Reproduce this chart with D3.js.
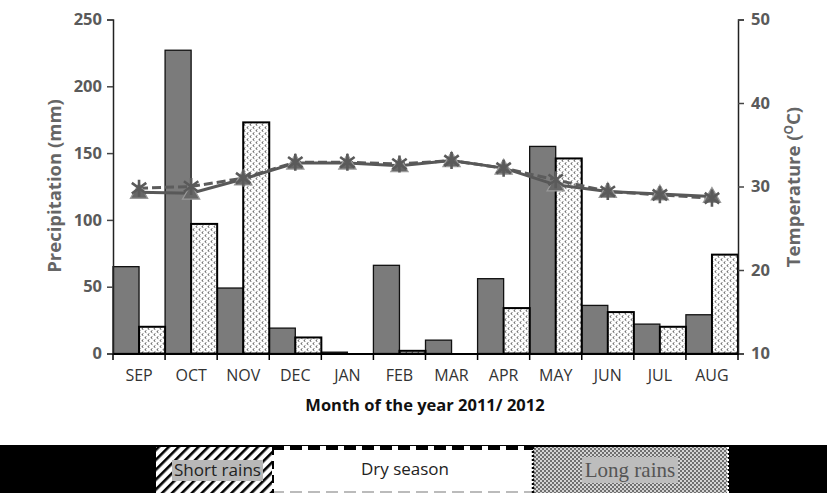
<!DOCTYPE html>
<html><head><meta charset="utf-8">
<script src="https://cdn.jsdelivr.net/npm/d3@7"></script>
<style>body{margin:0;background:#fff}svg{display:block}</style>
</head><body>
<svg id="c" width="827" height="493"></svg>
<script>
const months = ["SEP","OCT","NOV","DEC","JAN","FEB","MAR","APR","MAY","JUN","JUL","AUG"];
const precipSolid = [65, 227, 49, 19, 1, 66, 10, 56, 155, 36, 22, 29];
const precipDotted = [20, 97, 173, 12, 0, 2, 0, 34, 146, 31, 20, 74];
const tempTriangle = [29.3, 29.2, 30.9, 32.8, 32.8, 32.5, 33.1, 32.2, 30.2, 29.4, 29.1, 28.8];
const tempStar = [29.8, 30.0, 31.0, 32.9, 32.9, 32.7, 33.1, 32.2, 30.8, 29.4, 29.0, 28.6];
const leftTicks = [0, 50, 100, 150, 200, 250];
const rightTicks = [10, 20, 30, 40, 50];
const seasons = ["Short rains", "Dry season", "Long rains"];

const svg = d3.select("#c");
const defs = svg.append("defs");
const FONT = "'Open Sans', 'DejaVu Sans', sans-serif";

// patterns
const pDot = defs.append("pattern").attr("id","dots").attr("patternUnits","userSpaceOnUse").attr("width",6).attr("height",6);
pDot.append("rect").attr("width",6).attr("height",6).attr("fill","#fff");
pDot.append("path").attr("d","M2.4,0.5 L0.8,1.6 L2.4,2.7 M5.4,3.5 L3.8,4.6 L5.4,5.7").attr("stroke","#444").attr("stroke-width",0.9).attr("fill","none");

const pHatch = defs.append("pattern").attr("id","hatch").attr("patternUnits","userSpaceOnUse").attr("width",7).attr("height",7).attr("patternTransform","rotate(45)");
pHatch.append("rect").attr("width",7).attr("height",7).attr("fill","#fff");
pHatch.append("rect").attr("width",2.6).attr("height",7).attr("fill","#000");

const pCheck = defs.append("pattern").attr("id","check").attr("patternUnits","userSpaceOnUse").attr("width",4).attr("height",4);
pCheck.append("rect").attr("width",4).attr("height",4).attr("fill","#6f6f6f");
pCheck.append("circle").attr("cx",1).attr("cy",1).attr("r",0.95).attr("fill","#fff");
pCheck.append("circle").attr("cx",3).attr("cy",3).attr("r",0.95).attr("fill","#fff");

const x = d3.scaleBand().domain(months).range([113, 738]).padding(0);
const yL = d3.scaleLinear().domain([0, 250]).range([353.5, 19.5]);
const yR = d3.scaleLinear().domain([10, 50]).range([353.5, 19.5]);
const bw = x.bandwidth() / 2;

// bars
const g = svg.append("g");
g.selectAll("rect.s").data(months).enter().append("rect")
  .attr("x", d => x(d)).attr("width", bw)
  .attr("y", (d,i) => yL(precipSolid[i])).attr("height", (d,i) => yL(0) - yL(precipSolid[i]))
  .attr("fill", "#7b7b7b").attr("stroke", "#111").attr("stroke-width", 1.3);
g.selectAll("rect.d").data(months).enter().append("rect")
  .attr("x", d => x(d) + bw).attr("width", bw)
  .attr("y", (d,i) => yL(precipDotted[i])).attr("height", (d,i) => yL(0) - yL(precipDotted[i]))
  .attr("fill", "url(#dots)").attr("stroke", "#000").attr("stroke-width", 2);

// axes
const axL = d3.axisLeft(yL).tickValues(leftTicks).tickSize(6).tickPadding(5);
const gL = svg.append("g").attr("transform","translate(113,0)").call(axL);
const axR = d3.axisRight(yR).tickValues(rightTicks).tickSize(6).tickPadding(7);
const gR = svg.append("g").attr("transform","translate(738,0)").call(axR);
const axB = d3.axisBottom(x).tickSize(0).tickPadding(16);
const gB = svg.append("g").attr("transform","translate(0,353.5)").call(axB);
[gL, gR].forEach(a => {
  a.select(".domain").attr("stroke","#222").attr("stroke-width",1.5);
  a.selectAll(".tick line").attr("stroke","#444").attr("stroke-width",1.5);
  a.selectAll("text").attr("font-family",FONT).attr("font-size",16.5).attr("font-weight","bold").attr("fill","#5a5a5a");
});
gB.select(".domain").attr("stroke","#000").attr("stroke-width",2);
gB.selectAll(".tick text").attr("font-family",FONT).attr("font-size",16).attr("fill","#333");
// band boundary ticks
const bounds = months.map(m => x(m)).concat([738]);
svg.append("g").selectAll("line").data(bounds).enter().append("line")
  .attr("x1", d => d).attr("x2", d => d).attr("y1", 353.5).attr("y2", 360)
  .attr("stroke","#000").attr("stroke-width",1.5);

// temperature lines
const cx = (d,i) => x(months[i]) + x.bandwidth()/2;
const line = d3.line().x((d,i) => cx(d,i)).y(d => yR(d));
svg.append("path").datum(tempStar).attr("d", line).attr("fill","none")
  .attr("stroke","#5c5c5c").attr("stroke-width",3).attr("stroke-dasharray","9,4");
svg.append("path").datum(tempTriangle).attr("d", line).attr("fill","none")
  .attr("stroke","#585858").attr("stroke-width",3);
const tri = d3.symbol().type(d3.symbolTriangle).size(130);
svg.append("g").selectAll("path").data(tempTriangle).enter().append("path")
  .attr("d", tri).attr("transform", (d,i) => `translate(${cx(d,i)},${yR(d)+1})`)
  .attr("fill","#676767").attr("stroke","#9a9a9a").attr("stroke-width",1.2);
function starPath(r){
  const p = d3.path();
  p.moveTo(0,-r); p.lineTo(0,r);
  const a = r*0.85, b = r*0.62;
  p.moveTo(-a,-b); p.lineTo(a,b);
  p.moveTo(-a,b); p.lineTo(a,-b);
  return p.toString();
}
svg.append("g").selectAll("path").data(tempStar).enter().append("path")
  .attr("d", starPath(8.5)).attr("transform", (d,i) => `translate(${cx(d,i)},${yR(d)})`)
  .attr("fill","none").attr("stroke","#5a5a5a").attr("stroke-width",2.6);

// axis titles
svg.append("text").attr("transform","translate(61,186) rotate(-90)").attr("text-anchor","middle")
  .attr("font-family",FONT).attr("font-size",18.5).attr("font-weight","bold").attr("fill","#666")
  .text("Precipitation (mm)");
const tr = svg.append("text").attr("transform","translate(800,187) rotate(-90)").attr("text-anchor","middle")
  .attr("font-family",FONT).attr("font-size",18.5).attr("font-weight","bold").attr("fill","#666");
tr.append("tspan").text("Temperature (");
tr.append("tspan").attr("font-size",12).attr("dy",-7).text("O");
tr.append("tspan").attr("dy",7).text("C)");
svg.append("text").attr("x",425).attr("y",411).attr("text-anchor","middle")
  .attr("font-family",FONT).attr("font-size",16.5).attr("font-weight","bold").attr("fill","#111")
  .text("Month of the year 2011/ 2012");

// season band
const bandTop = 445;
svg.append("rect").attr("x",0).attr("y",bandTop).attr("width",827).attr("height",493-bandTop).attr("fill","#000");
svg.append("rect").attr("x",156).attr("y",bandTop+2).attr("width",116).attr("height",493-bandTop-2).attr("fill","url(#hatch)");
svg.append("rect").attr("x",272).attr("y",bandTop+1).attr("width",261).attr("height",493-bandTop-1).attr("fill","#fff");
svg.append("line").attr("x1",272).attr("x2",533).attr("y1",bandTop+3).attr("y2",bandTop+3)
  .attr("stroke","#000").attr("stroke-width",4).attr("stroke-dasharray","12,6");
svg.append("line").attr("x1",272).attr("x2",533).attr("y1",492).attr("y2",492)
  .attr("stroke","#bbb").attr("stroke-width",2).attr("stroke-dasharray","12,6");
svg.append("line").attr("x1",273).attr("x2",273).attr("y1",bandTop+2).attr("y2",493)
  .attr("stroke","#000").attr("stroke-width",2).attr("stroke-dasharray","8,6");
svg.append("rect").attr("x",533).attr("y",bandTop+2).attr("width",195).attr("height",493-bandTop-2).attr("fill","url(#check)");
svg.append("line").attr("x1",533).attr("x2",533).attr("y1",bandTop+2).attr("y2",493)
  .attr("stroke","#000").attr("stroke-width",2.5).attr("stroke-dasharray","2,2");
svg.append("line").attr("x1",728).attr("x2",728).attr("y1",bandTop+2).attr("y2",493)
  .attr("stroke","#fff").attr("stroke-width",2).attr("stroke-dasharray","2,2");
// label boxes
svg.append("rect").attr("x",172).attr("y",460).attr("width",91).attr("height",21).attr("fill","#b8b8b8");
svg.append("text").attr("x",174).attr("y",476).attr("textLength",87).attr("lengthAdjust","spacingAndGlyphs")
  .attr("font-family",FONT).attr("font-size",16).attr("fill","#222").text(seasons[0]);
svg.append("text").attr("x",405).attr("y",475).attr("text-anchor","middle")
  .attr("font-family",FONT).attr("font-size",17).attr("fill","#222").text(seasons[1]);
svg.append("rect").attr("x",582).attr("y",457).attr("width",96).attr("height",26).attr("fill","#bdbdbd");
svg.append("text").attr("x",630).attr("y",477).attr("text-anchor","middle")
  .attr("font-family","'Liberation Serif','DejaVu Serif',serif").attr("font-size",21).attr("fill","#555").text(seasons[2]);
</script>
</body></html>
